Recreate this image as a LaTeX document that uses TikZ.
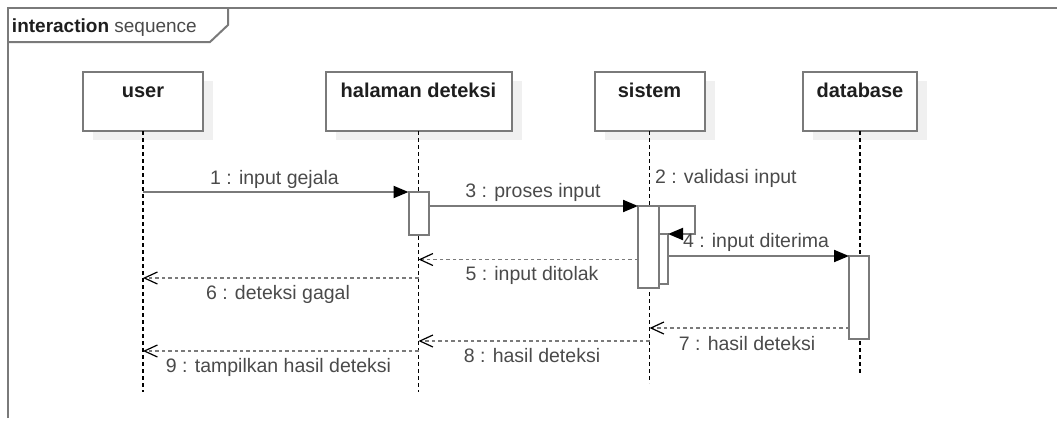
\documentclass[tikz,border=0pt]{standalone}
\usepackage{fontspec}
\setmainfont{Liberation Sans}
\usetikzlibrary{arrows.meta,calc}
\definecolor{linegray}{HTML}{7A7A7A}
\definecolor{txtgray}{HTML}{4A4A4A}
\definecolor{headtxt}{HTML}{1E1E1E}
\definecolor{shadowgray}{HTML}{F0F0F0}

\begin{document}
\begin{tikzpicture}[x=1pt,y=-1pt,
  every node/.style={inner sep=0pt,outer sep=0pt},
  lbl/.style={font=\fontsize{19.5}{22}\selectfont,text=txtgray,anchor=base},
  headbox/.style={draw=linegray,line width=2pt,fill=white,minimum height=59pt,anchor=north},
  headshadow/.style={fill=shadowgray},
  headtext/.style={font=\fontsize{20}{24}\selectfont\bfseries,text=headtxt,anchor=base},
  actbar/.style={draw=linegray,line width=2pt,fill=white,anchor=north},
  lifeline/.style={draw=black,line width=1.4pt,dash pattern=on 4pt off 3pt},
  msg/.style={draw=linegray,line width=2pt,-{Triangle[length=15pt,width=12pt,color=black]}},
  ret/.style={draw=linegray,line width=1.8pt,dash pattern=on 3.5pt off 3pt,
    -{Straight Barb[length=13pt,width=12pt,line width=1.2pt,color=black]}},
]
\useasboundingbox (0,0) rectangle (1057,421);

% outer frame and its tab
\draw[linegray,line width=2pt] (8,418) -- (8,8) -- (1058,8);
\draw[linegray,line width=2pt] (8,42) -- (210,42) -- (228,25) -- (228,8);
\node[anchor=base west,font=\fontsize{19}{22}\selectfont] (title) at (12,32)
  {\textbf{\color{headtxt}interaction} {\color{txtgray}sequence}};

% shadows of the lifeline heads
\fill[headshadow] (93,81) rectangle +(120,59);
\fill[headshadow] (335.5,81) rectangle +(186,59);
\fill[headshadow] (604.5,81) rectangle +(110,59);
\fill[headshadow] (813,81) rectangle +(114,59);

% lifeline heads
\node[headbox,minimum width=120pt] (user) at (143,72) {};
\node[headbox,minimum width=186pt] (halaman) at (418.5,72) {};
\node[headbox,minimum width=110pt] (sistem) at (649.5,72) {};
\node[headbox,minimum width=114pt] (database) at (860,72) {};
\node[headtext] at (143,97) {user};
\node[headtext] at (418.5,97) {halaman deteksi};
\node[headtext] at (649.5,97) {sistem};
\node[headtext] at (860,97) {database};

% lifeline ends
\coordinate (userend) at (143,392);
\coordinate (halend) at (418.5,392);
\coordinate (sisend) at (649.5,383);
\coordinate (dbend) at (860,374);
\draw[lifeline] (user.south) -- (userend);
\draw[lifeline] (halaman.south) -- (halend);
\draw[lifeline] (sistem.south) -- (sisend);
\draw[lifeline] (database.south) -- (dbend);

% activation bars
\node[actbar,minimum width=20pt,minimum height=43pt] (hact) at (418.5,192) {};
\node[actbar,minimum width=21pt,minimum height=82pt] (sact) at (648.5,206) {};
\node[actbar,minimum width=9pt,minimum height=50pt] (nact) at (663.5,234) {};
\node[actbar,minimum width=20pt,minimum height=83pt] (dact) at (859,256) {};

% heights of the return messages
\coordinate (y5) at (0,259.5);
\coordinate (y6) at (0,278);
\coordinate (y7) at (0,328);
\coordinate (y8) at (0,341);
\coordinate (y9) at (0,351);

% calls
\draw[msg] (user.south |- hact.north) -- (hact.north west);
\draw[msg] (hact.east |- sact.north) -- (sact.north west);
\draw[msg] (sact.north east) -- ++(36,0) |- (nact.north east);
\draw[msg] (nact.east |- dact.north) -- (dact.north west);

% returns
\draw[ret] (sact.west |- y5) -- (halaman.south |- y5);
\draw[ret] (halaman.south |- y6) -- (user.south |- y6);
\draw[ret] (dact.west |- y7) -- (sistem.south |- y7);
\draw[ret] (sistem.south |- y8) -- (halaman.south |- y8);
\draw[ret] (halaman.south |- y9) -- (user.south |- y9);

% message labels
\node[lbl] (l1) at (274.5,184) {1 : input gejala};
\node[lbl,anchor=base west] (l2) at (655,183) {2 : validasi input};
\node[lbl] (l3) at (533,197) {3 : proses input};
\node[lbl,anchor=base west] (l4) at (683,247) {4 : input diterima};
\node[lbl] (l5) at (532,280) {5 : input ditolak};
\node[lbl] (l6) at (278,299) {6 : deteksi gagal};
\node[lbl] (l7) at (747,350) {7 : hasil deteksi};
\node[lbl] (l8) at (532,362) {8 : hasil deteksi};
\node[lbl] (l9) at (278.5,372) {9 : tampilkan hasil deteksi};
\end{tikzpicture}
\end{document}
